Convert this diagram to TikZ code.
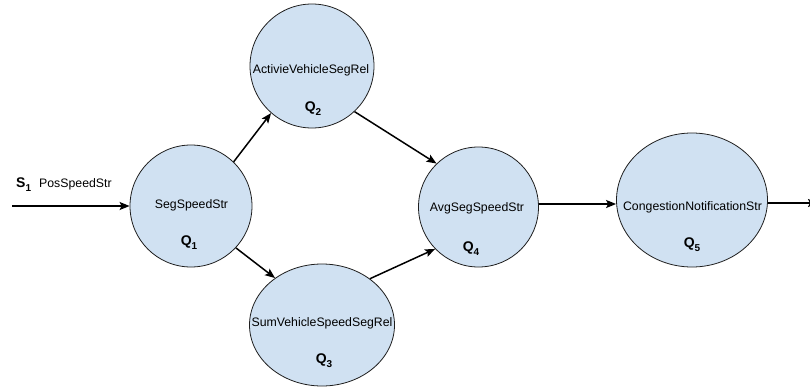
\documentclass[tikz,border=0pt]{standalone}
\usepackage{fontspec}
\setmainfont{Liberation Sans}
\usetikzlibrary{arrows.meta,shapes.geometric}
\definecolor{qfill}{RGB}{208,225,242}
\definecolor{qline}{RGB}{30,30,30}
\newcommand\qsub[2]{#1\raisebox{-4pt}{\fontsize{10}{11}\selectfont\bfseries #2}}
\begin{document}
\begin{tikzpicture}[x=1pt,y=-1pt,
  op/.style={draw=qline,line width=0.8pt,fill=qfill,inner sep=0pt},
  opcirc/.style={op,circle,minimum size=#1},
  opell/.style n args={2}{op,ellipse,minimum width=#1,minimum height=#2},
  opname/.style={font=\fontsize{12.3}{14}\selectfont,inner sep=0pt},
  qlab/.style={font=\fontsize{14}{16}\selectfont\bfseries,inner sep=0pt,anchor=base},
  arr/.style={line width=1.5pt,-{Stealth[length=10pt,width=8pt,inset=2pt]}}]
\useasboundingbox (0,0) rectangle (810,388);

% operators
\node[opcirc=122pt] (Q1) at (191,206) {};
\node[opcirc=124pt] (Q2) at (312,66) {};
\node[opell={145pt}{122pt}] (Q3) at (322,325) {};
\node[opcirc=120pt] (Q4) at (478.5,207) {};
\node[opell={151pt}{134pt}] (Q5) at (692,200) {};

% operator names
\node[opname] (n1) at (191.5,205) {SegSpeedStr};
\node[opname] (n2) at (311,70) {ActivieVehicleSegRel};
\node[opname] (n3) at (322,323) {SumVehicleSpeedSegRel};
\node[opname] (n4) at (477,208) {AvgSegSpeedStr};
\node[opname] (n5) at (692.5,207) {CongestionNotificationStr};

% operator indices
\node[qlab] (q1) at (189,245) {\qsub{Q}{1}};
\node[qlab] (q2) at (313,111) {\qsub{Q}{2}};
\node[qlab] (q3) at (324,363) {\qsub{Q}{3}};
\node[qlab] (q4) at (471,251) {\qsub{Q}{4}};
\node[qlab] (q5) at (692,247) {\qsub{Q}{5}};

% input stream
\node[qlab,anchor=base west] (s1) at (16,187) {\qsub{S}{1}};
\node[opname,anchor=base west] (s1name) at (39,187) {PosSpeedStr};

\coordinate (in) at (12,206);
\coordinate (out) at (818,203);

% streams between operators
\draw[arr] (in) -- (Q1.west);
\draw[arr] (Q1.46) -- (Q2.229);
\draw[arr] (Q1.-43) -- (Q3.135);
\draw[arr] (Q2.-47) -- (Q4.134);
\draw[arr] (Q3.44) -- (Q4.224);
\draw[arr] ([yshift=3pt]Q4.east) -- ([yshift=-4pt]Q5.west);
\draw[arr] ([yshift=-3pt]Q5.east) -- (out);
\end{tikzpicture}
\end{document}
